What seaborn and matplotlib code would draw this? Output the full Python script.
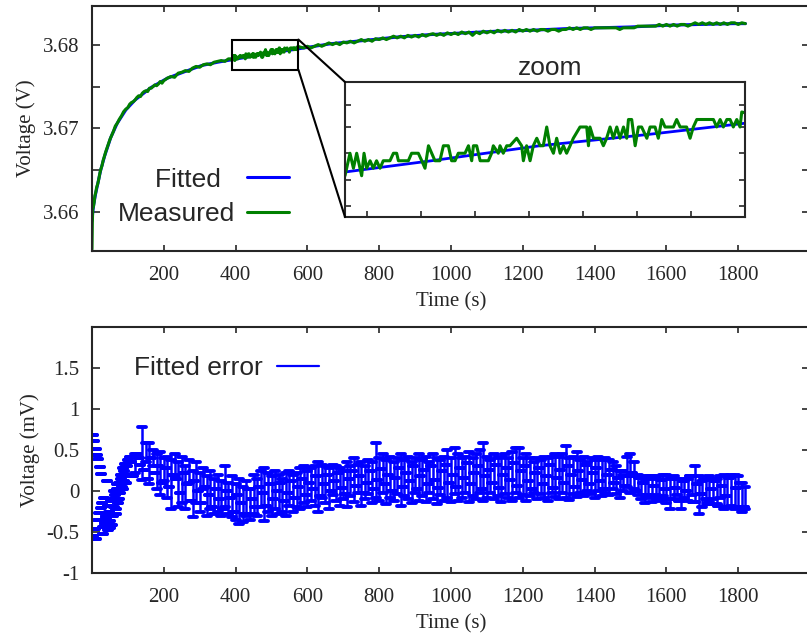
import numpy as np
import pandas as pd
import matplotlib
matplotlib.use("Agg")
import matplotlib.pyplot as plt
import seaborn as sns
from matplotlib.patches import Rectangle, ConnectionPatch
from matplotlib.lines import Line2D
from matplotlib.markers import MarkerStyle
from matplotlib.ticker import FixedLocator, NullFormatter

# ---------------- data ----------------
# fitted voltage curve (V)
t_fit = [0, 2, 5, 10, 17, 24, 35, 52, 70, 94, 120, 165, 210, 260, 305, 350,
         390, 430, 480, 530, 575, 665, 760, 850, 945, 1040, 1130, 1220, 1320,
         1410, 1500, 1600, 1690, 1785, 1820]
v_fit = [3.6590, 3.6600, 3.6610, 3.6622, 3.6636, 3.6650, 3.6667, 3.6689, 3.6706,
         3.6722, 3.6734, 3.6749, 3.6760, 3.6768, 3.6775, 3.6779, 3.6782, 3.6785,
         3.6789, 3.6792, 3.6795, 3.6801, 3.6805, 3.6809, 3.6812, 3.6814, 3.6816,
         3.6817, 3.6819, 3.6820, 3.6821, 3.6823, 3.6824, 3.6825, 3.6825]

# measured voltage (V), early part
t_meas_a = [0, 1, 2, 4, 6, 8, 10, 13, 16, 19, 22, 25, 28, 31, 34, 38, 42, 46, 50,
            55, 60, 65, 70, 76, 82, 88, 94, 100, 105, 110, 115, 120, 125, 130,
            135, 140, 145, 150, 155, 160, 165, 170, 175, 180, 185, 190, 195, 200,
            210, 220, 230, 240, 250, 260, 270, 280, 290, 300, 310, 320, 330, 340,
            350, 360, 370, 380, 386]
v_meas_a = [3.6556, 3.6588, 3.6604, 3.6607, 3.6612, 3.6620, 3.6623, 3.6630, 3.6634,
            3.6640, 3.6647, 3.6652, 3.6656, 3.6662, 3.6666, 3.6672, 3.6677, 3.6682,
            3.6687, 3.6692, 3.6697, 3.6703, 3.6706, 3.6711, 3.6715, 3.6720, 3.6723,
            3.6725, 3.6729, 3.6731, 3.6732, 3.6734, 3.6737, 3.6739, 3.6738, 3.6742,
            3.6744, 3.6745, 3.6744, 3.6748, 3.6748, 3.6750, 3.6752, 3.6751, 3.6753,
            3.6756, 3.6754, 3.6757, 3.6760, 3.6762, 3.6761, 3.6766, 3.6767, 3.6769,
            3.6768, 3.6772, 3.6774, 3.6773, 3.6776, 3.6777, 3.6776, 3.6779, 3.6780,
            3.6781, 3.6780, 3.6783, 3.6783]

# measured voltage (V), zoomed window
t_meas_z = [390.0, 392.3, 393.9, 395.4, 396.9, 397.7, 398.8, 400.0, 401.6, 403.1,
            404.6, 406.2, 407.7, 410.8, 412.4, 413.9, 414.7, 419.3, 420.8, 423.9,
            425.5, 427.0, 428.6, 430.1, 431.6, 433.9, 435.5, 437.8, 439.3, 440.9,
            442.4, 445.5, 447.1, 448.6, 449.4, 450.9, 452.5, 456.3, 457.8, 458.6,
            460.9, 461.7, 463.2, 464.8, 466.3, 469.4, 471.7, 472.5, 474.0, 475.6,
            477.1, 478.7, 480.2, 481.7, 483.3, 484.8, 486.4, 487.9, 489.5, 491.0,
            492.5, 494.1, 495.6, 498.7, 501.8, 502.6, 503.3, 504.9, 508.0, 509.5,
            511.0, 512.6, 514.1, 515.7, 517.2, 518.8, 520.3, 521.1, 522.6, 524.2,
            525.7, 527.2, 529.6, 531.1, 533.4, 534.9, 536.5, 538.0, 541.9, 543.4,
            545.0, 548.0, 549.6, 551.1, 552.7, 560.4, 561.9, 563.5, 565.0, 566.6,
            568.1, 569.6, 571.2, 572.7, 573.5]
v_meas_z = [3.6781, 3.6787, 3.6783, 3.6787, 3.6783, 3.6781, 3.6787, 3.6783, 3.6785, 3.6783,
            3.6785, 3.6783, 3.6785, 3.6785, 3.6787, 3.6787, 3.6785, 3.6785, 3.6787, 3.6787,
            3.6785, 3.6783, 3.6789, 3.6787, 3.6785, 3.6785, 3.6789, 3.6789, 3.6785, 3.6785,
            3.6787, 3.6787, 3.6789, 3.6785, 3.6789, 3.6789, 3.6785, 3.6785, 3.6787, 3.6789,
            3.6787, 3.6789, 3.6787, 3.6789, 3.6789, 3.6791, 3.6789, 3.6785, 3.6789, 3.6785,
            3.6789, 3.6791, 3.6789, 3.6789, 3.6794, 3.6789, 3.6787, 3.6791, 3.6787, 3.6789,
            3.6787, 3.6789, 3.6791, 3.6794, 3.6794, 3.6789, 3.6794, 3.6791, 3.6791, 3.6789,
            3.6791, 3.6794, 3.6791, 3.6794, 3.6791, 3.6794, 3.6791, 3.6796, 3.6796, 3.6789,
            3.6794, 3.6794, 3.6791, 3.6794, 3.6794, 3.6791, 3.6796, 3.6794, 3.6794, 3.6796,
            3.6794, 3.6794, 3.6791, 3.6794, 3.6796, 3.6796, 3.6794, 3.6796, 3.6794, 3.6796,
            3.6796, 3.6794, 3.6796, 3.6794, 3.6798]

# measured voltage (V), late part
t_meas_b = [580, 590, 600, 610, 620, 630, 640, 650, 660, 670, 680, 690, 700, 710,
            720, 730, 740, 750, 760, 770, 780, 790, 800, 810, 820, 830, 840, 850,
            860, 870, 880, 890, 900, 910, 920, 930, 940, 950, 960, 970, 980, 990,
            1000, 1010, 1020, 1030, 1040, 1050, 1060, 1070, 1080, 1090, 1100, 1110,
            1120, 1130, 1140, 1150, 1160, 1170, 1180, 1190, 1200, 1210, 1220, 1230,
            1240, 1250, 1260, 1270, 1280, 1290, 1300, 1310, 1320, 1330, 1340, 1350,
            1360, 1370, 1380, 1390, 1400, 1410, 1420, 1430, 1440, 1450, 1460, 1470,
            1480, 1490, 1500, 1510, 1520, 1530, 1540, 1550, 1560, 1570, 1580, 1590,
            1600, 1610, 1620, 1630, 1640, 1650, 1660, 1670, 1680, 1690, 1700, 1710,
            1720, 1730, 1740, 1750, 1760, 1770, 1780, 1790, 1800, 1810, 1820]
v_meas_b = [3.6797, 3.6796, 3.6798, 3.6796, 3.6798, 3.6800, 3.6798, 3.6800, 3.6802,
            3.6800, 3.6802, 3.6800, 3.6803, 3.6802, 3.6804, 3.6802, 3.6804, 3.6806,
            3.6804, 3.6806, 3.6804, 3.6807, 3.6806, 3.6808, 3.6806, 3.6808, 3.6810,
            3.6808, 3.6810, 3.6808, 3.6811, 3.6809, 3.6811, 3.6809, 3.6812, 3.6810,
            3.6812, 3.6813, 3.6811, 3.6813, 3.6811, 3.6814, 3.6812, 3.6814, 3.6812,
            3.6815, 3.6813, 3.6815, 3.6811, 3.6815, 3.6813, 3.6816, 3.6814, 3.6816,
            3.6814, 3.6817, 3.6815, 3.6817, 3.6815, 3.6817, 3.6815, 3.6818, 3.6816,
            3.6818, 3.6816, 3.6818, 3.6816, 3.6818, 3.6818, 3.6816, 3.6818, 3.6818,
            3.6816, 3.6818, 3.6818, 3.6820, 3.6818, 3.6820, 3.6818, 3.6820, 3.6820,
            3.6818, 3.6820, 3.6820, 3.6820, 3.6820, 3.6820, 3.6820, 3.6820, 3.6818,
            3.6820, 3.6820, 3.6820, 3.6820, 3.6822, 3.6822, 3.6822, 3.6822, 3.6822,
            3.6822, 3.6824, 3.6822, 3.6824, 3.6822, 3.6824, 3.6822, 3.6824, 3.6824,
            3.6822, 3.6824, 3.6826, 3.6824, 3.6826, 3.6824, 3.6826, 3.6824, 3.6826,
            3.6824, 3.6826, 3.6824, 3.6826, 3.6826, 3.6824, 3.6826, 3.6825]

# fitted error (mV), error bars: time, lower end, upper end
t_err = [2, 4, 6, 8, 10, 12, 14, 16, 18, 20, 22, 24, 26, 28, 30, 33, 36, 39, 42,
         45, 48, 51, 54, 57, 60, 63, 66, 69, 72, 75, 78, 81, 84, 87, 90, 93, 96, 99,
         110, 120, 130, 140, 150, 160, 170, 180, 190, 200, 210, 220, 230, 240, 250,
         260, 270, 280, 290, 300, 310, 320, 330, 340, 350, 360, 370, 380, 390, 400,
         410, 420, 430, 440, 450, 460, 470, 480, 490, 500, 510, 520, 530, 540, 550,
         560, 570, 580, 590, 600, 610, 620, 630, 640, 650, 660, 670, 680, 690, 700,
         710, 720, 730, 740, 750, 760, 770, 780, 790, 800, 810, 820, 830, 840, 850,
         860, 870, 880, 890, 900, 910, 920, 930, 940, 950, 960, 970, 980, 990, 1000,
         1010, 1020, 1030, 1040, 1050, 1060, 1070, 1080, 1090, 1100, 1110, 1120,
         1130, 1140, 1150, 1160, 1170, 1180, 1190, 1200, 1210, 1220, 1230, 1240,
         1250, 1260, 1270, 1280, 1290, 1300, 1310, 1320, 1330, 1340, 1350, 1360,
         1370, 1380, 1390, 1400, 1410, 1420, 1430, 1440, 1450, 1460, 1470, 1480,
         1490, 1500, 1510, 1520, 1530, 1540, 1550, 1560, 1570, 1580, 1590, 1600,
         1610, 1620, 1630, 1640, 1650, 1660, 1670, 1680, 1690, 1700, 1710, 1720,
         1730, 1740, 1750, 1760, 1770, 1780, 1790, 1800, 1810, 1820]
err_lo = [0.68, -0.55, 0.61, -0.46, 0.51, -0.58, 0.44, -0.35, 0.39, -0.27, 0.29,
          -0.21, 0.21, -0.15, -0.44, -0.09, -0.38, -0.30, 0.12, -0.48, -0.25, -0.36,
          -0.10, -0.42, -0.20, -0.05, -0.28, 0.02, -0.15, 0.10, -0.02, 0.20, 0.05,
          0.28, 0.12, 0.33, 0.18, 0.38,
          0.35, 0.22, 0.40, 0.13, 0.35, 0.08, 0.30, 0.02, -0.05, 0.12,
          -0.08, -0.22, 0.18, -0.20, -0.15, -0.22, 0.10, -0.32, -0.15, -0.25,
          0.02, -0.30, -0.22, -0.28, -0.25, -0.30, -0.20, -0.28, -0.32, -0.35,
          -0.40, -0.38, -0.30, -0.35, -0.28, -0.30, -0.20, -0.36, -0.25, -0.30,
          -0.22, -0.28, -0.25, -0.30, -0.18, -0.25, -0.20, -0.22, -0.15, -0.20,
          -0.12, -0.18, -0.25, -0.08, -0.15, -0.22, -0.05, -0.12, -0.18, -0.10,
          -0.20, -0.06, -0.14, -0.02, -0.18, -0.10, -0.04, -0.15, -0.08, -0.12,
          -0.02, -0.16, -0.08, -0.12, -0.04, -0.18, -0.06, -0.10, -0.15, -0.03,
          -0.12, -0.06, -0.14, -0.02, -0.10, -0.16, -0.05, -0.12, -0.08, -0.14,
          -0.04, -0.12, -0.08, -0.02, -0.14, -0.06, -0.10, -0.03, -0.12, -0.08,
          -0.02, -0.10, -0.06, -0.13, -0.04, -0.08, -0.12, -0.02, -0.09, -0.05,
          -0.12, -0.06, -0.02, -0.10, -0.04, -0.08, -0.12, -0.03, -0.07, -0.10,
          -0.02, -0.08, -0.11, -0.04, -0.07, -0.02, -0.06, 0.00, -0.04, -0.08,
          0.00, -0.06, -0.02, -0.05, 0.02, -0.04, -0.08, 0.00, 0.05, -0.02,
          0.02, -0.05, -0.10, -0.15, -0.08, -0.14, -0.05, -0.12, -0.06, -0.15,
          -0.22, -0.10, -0.05, -0.22, -0.08, -0.12, -0.05, -0.14, -0.28, -0.20,
          -0.10, -0.14, -0.10, -0.16, -0.08, -0.22, -0.20, -0.18, -0.22, -0.20,
          -0.25, -0.22]
err_hi = [0.68, -0.55, 0.61, -0.46, 0.51, -0.58, 0.44, -0.35, 0.39, -0.27, 0.29,
          -0.21, 0.21, -0.15, -0.44, -0.09, -0.38, -0.30, 0.12, -0.48, -0.25, -0.36,
          -0.10, -0.42, -0.20, -0.05, -0.28, 0.02, -0.15, 0.10, -0.02, 0.20, 0.05,
          0.28, 0.12, 0.33, 0.18, 0.38,
          0.35, 0.45, 0.40, 0.78, 0.58, 0.58, 0.50, 0.45, 0.48, 0.40, 0.42, 0.38,
          0.45, 0.35, 0.42, 0.30, 0.38, 0.25, 0.35, 0.22, 0.28, 0.18, 0.25, 0.15,
          0.20, 0.12, 0.30, 0.10, 0.18, 0.08, 0.15, 0.05, 0.12, 0.02, 0.20, 0.15,
          0.25, 0.28, 0.22, 0.18, 0.25, 0.20, 0.15, 0.22, 0.25, 0.20, 0.22, 0.28,
          0.30, 0.25, 0.28, 0.30, 0.35, 0.32, 0.30, 0.28, 0.32, 0.30, 0.28, 0.25,
          0.35, 0.30, 0.40, 0.32, 0.35, 0.30, 0.38, 0.35, 0.58, 0.40, 0.45, 0.38,
          0.42, 0.35, 0.40, 0.45, 0.38, 0.42, 0.35, 0.40, 0.45, 0.38, 0.42, 0.35,
          0.45, 0.40, 0.38, 0.42, 0.50, 0.40, 0.52, 0.45, 0.40, 0.42, 0.48, 0.40,
          0.45, 0.50, 0.58, 0.42, 0.38, 0.45, 0.40, 0.42, 0.45, 0.40, 0.48, 0.52,
          0.52, 0.40, 0.45, 0.40, 0.35, 0.40, 0.38, 0.42, 0.40, 0.42, 0.45, 0.42,
          0.45, 0.55, 0.40, 0.42, 0.48, 0.38, 0.42, 0.35, 0.40, 0.38, 0.42, 0.38,
          0.40, 0.38, 0.35, 0.30, 0.25, 0.20, 0.42, 0.45, 0.35, 0.20, 0.18, 0.15,
          0.15, 0.18, 0.15, 0.18, 0.20, 0.20, 0.15, 0.18, 0.15, 0.15, 0.12, 0.15,
          0.18, 0.30, 0.18, 0.12, 0.15, 0.18, 0.15, 0.15, 0.18, 0.20, 0.18, 0.20,
          0.20, 0.18, 0.10, 0.05]

# fitted error (mV), points without bars
t_err_b = [31, 35, 40, 44, 49, 53, 58, 62, 67, 71, 76, 80, 85, 89, 94, 98, 102,
           105, 115, 125, 135, 145, 155, 165, 175, 185, 195, 205, 215, 225, 235,
           245, 255, 265, 275, 285, 295, 305, 315, 325, 335, 345, 355, 365, 375,
           385, 395, 405, 415, 425, 435, 445, 455, 465, 475, 485, 495, 505, 515,
           525, 535, 545, 555, 565, 575, 585, 595, 605, 615, 625, 635, 645, 655,
           665, 675, 685, 695, 705, 715, 725, 735, 745, 755, 765, 775, 785, 795,
           805, 815, 825, 835, 845, 855, 865, 875, 885, 895, 905, 915, 925, 935,
           945, 955, 965, 975, 985, 995, 1005, 1015, 1025, 1035, 1045, 1055, 1065,
           1075, 1085, 1095, 1105, 1115, 1125, 1135, 1145, 1155, 1165, 1175, 1185,
           1195, 1205, 1215, 1225, 1235, 1245, 1255, 1265, 1275, 1285, 1295, 1305,
           1315, 1325, 1335, 1345, 1355, 1365, 1375, 1385, 1395, 1405, 1415, 1425,
           1435, 1445, 1455, 1465, 1475, 1485, 1495, 1505, 1515, 1525, 1535, 1545,
           1555, 1565, 1575, 1585, 1595, 1605, 1615, 1625, 1635, 1645, 1655, 1665,
           1675, 1685, 1695, 1705, 1715, 1725, 1735, 1745, 1755, 1765, 1775, 1785,
           1795, 1805, 1815]
err_val_b = [-0.52, -0.40, -0.33, -0.18, -0.45, -0.12, -0.30, 0.00, -0.22, 0.08,
             -0.10, 0.15, 0.02, 0.24, 0.10, 0.30, 0.20,
             0.42, 0.18, 0.45, 0.32, 0.26, 0.15, 0.40, 0.22, 0.30, 0.10,
             0.28, 0.05, 0.20, 0.15, -0.02, 0.22, 0.08, -0.12, 0.12, 0.00,
             -0.15, 0.05, -0.05, -0.20, 0.02, -0.10, -0.22, 0.00, -0.08, -0.25,
             -0.05, -0.15, -0.28, 0.02, -0.10, -0.20, 0.05, -0.02, -0.18, 0.08,
             -0.10, 0.00, 0.10, -0.12, -0.02, 0.12, -0.08, 0.05, 0.15, -0.05,
             0.10, 0.02, 0.18, -0.06, 0.08, 0.20, 0.00, 0.12, 0.22, 0.04,
             -0.04, 0.15, 0.24, 0.06, 0.18, -0.02, 0.10, 0.25, 0.02, 0.14,
             0.27, 0.08, 0.20, 0.00, 0.16, 0.28, 0.05, 0.22, 0.12, 0.30,
             0.02, 0.18, 0.26, 0.08, 0.30, 0.14, 0.04, 0.24, 0.32, 0.10,
             0.20, 0.05, 0.28, 0.16, 0.34, 0.08, 0.22, 0.30, 0.02, 0.18,
             0.26, 0.10, 0.32, 0.04, 0.20, 0.28, 0.14, 0.34, 0.06, 0.24,
             0.30, 0.12, 0.02, 0.22, 0.28, 0.08, 0.18, 0.32, 0.04, 0.16,
             0.26, 0.10, 0.30, 0.20, 0.05, 0.24, 0.14, 0.32, 0.08, 0.22,
             0.28, 0.12, 0.02, 0.20, 0.26, 0.10, 0.16, 0.24, 0.06, 0.18,
             0.22, 0.00, 0.16, 0.10, -0.05, 0.18, 0.06, -0.08, 0.14, 0.02,
             -0.10, 0.16, 0.04, -0.12, 0.12, 0.00, 0.18, -0.14, 0.08, -0.04,
             0.14, -0.16, 0.02, 0.12, -0.18, 0.06, -0.06, 0.16, -0.20, 0.04,
             0.10, -0.20]

# tick labels
top_yticks = [3.66, 3.67, 3.68]
bot_yticks = [-1, -0.5, 0, 0.5, 1, 1.5]
xticks = [200, 400, 600, 800, 1000, 1200, 1400, 1600, 1800]

# ---------------- styling ----------------
sns.set_style("ticks")
plt.rcParams.update({
    "font.family": ["Liberation Serif", "DejaVu Serif"],
    "axes.unicode_minus": False,
    "xtick.direction": "in",
    "ytick.direction": "in",
    "axes.linewidth": 1.5,
})
BLUE = "#0000ff"
GREEN = "#008000"
SANS = ["Liberation Sans", "DejaVu Sans"]
TICKFS = 15
LABFS = 15

fig = plt.figure(figsize=(8.07, 6.37), dpi=100)
W, H = 807.0, 637.0
AXW = (810 - 92) / W
ax1 = fig.add_axes([92 / W, 1 - 251 / H, AXW, 245 / H])
ax2 = fig.add_axes([92 / W, 1 - 573 / H, AXW, 246 / H])
axz = fig.add_axes([345 / W, 1 - 217 / H, 400 / W, 135 / H])

df_fit = pd.DataFrame({"t": t_fit, "v": v_fit})
df_meas = pd.DataFrame({"t": t_meas_a + t_meas_z + t_meas_b,
                        "v": v_meas_a + v_meas_z + v_meas_b})

# ---- top panel ----
sns.lineplot(data=df_fit, x="t", y="v", ax=ax1, color=BLUE, lw=2.2,
             estimator=None, sort=False, label="Fitted  ")
sns.lineplot(data=df_meas, x="t", y="v", ax=ax1, color=GREEN, lw=2.2,
             estimator=None, sort=False, label="Measured")
ax1.set_xlim(0, 2000)
ax1.set_ylim(3.6554, 3.6846)
ax1.xaxis.set_major_locator(FixedLocator(xticks))
ax1.yaxis.set_major_locator(FixedLocator(top_yticks))
ax1.yaxis.set_minor_locator(FixedLocator([3.665, 3.675]))
ax1.set_yticklabels(["%.2f" % v for v in top_yticks])
ax1.set_xlabel("Time (s)", fontsize=LABFS, labelpad=5)
ax1.set_ylabel("Voltage (V)", fontsize=LABFS, labelpad=5)

z_x0, z_x1, z_y0, z_y1 = 390, 575, 3.6770, 3.6806
ax1.add_patch(Rectangle((z_x0, z_y0), z_x1 - z_x0, z_y1 - z_y0, fill=False,
                        ec="black", lw=1.5, zorder=6))

ax1.legend(loc="center right", bbox_to_anchor=(300 / W, 1 - 197 / H),
           bbox_transform=fig.transFigure, frameon=False, markerfirst=False,
           prop={"family": SANS, "size": 19}, handlelength=1.6,
           handletextpad=0.45, labelspacing=0.4, borderaxespad=0)

# ---- inset ----
sns.lineplot(data=df_fit, x="t", y="v", ax=axz, color=BLUE, lw=2,
             estimator=None, sort=False, legend=False)
sns.lineplot(data=df_meas, x="t", y="v", ax=axz, color=GREEN, lw=2.2,
             estimator=None, sort=False, legend=False)
axz.set_xlim(z_x0, z_x1)
axz.set_ylim(z_y0, z_y1)
axz.xaxis.set_major_locator(FixedLocator([400, 425, 450, 475, 500, 525, 550]))
axz.yaxis.set_major_locator(FixedLocator([3.6773, 3.6780, 3.6787, 3.6794, 3.6800]))
axz.xaxis.set_major_formatter(NullFormatter())
axz.yaxis.set_major_formatter(NullFormatter())
axz.set_xlabel("")
axz.set_ylabel("")
axz.tick_params(which="both", direction="in", length=4, width=1.2,
                left=True, right=True, bottom=True, top=False)
for s in axz.spines.values():
    s.set_linewidth(1.5)
fig.text(550 / W, 1 - 68 / H, "zoom", family=SANS, fontsize=19,
         ha="center", va="center")

for xyA, xyB in [((z_x1, z_y1), (0, 1)), ((z_x1, z_y0), (0, 0))]:
    con = ConnectionPatch(xyA=xyA, coordsA=ax1.transData, xyB=xyB,
                          coordsB=axz.transAxes, color="black", lw=1.5)
    fig.add_artist(con)

# ---- bottom panel ----
lo = np.array(err_lo)
hi = np.array(err_hi)
cont_a = ax2.errorbar(t_err, lo, yerr=[np.zeros(len(lo)), hi - lo],
                      fmt="none", ecolor=BLUE, elinewidth=1.8, capsize=2.6,
                      capthick=2.8)
cont_b = ax2.errorbar(t_err_b, err_val_b, yerr=np.zeros(len(err_val_b)),
                      fmt="none", ecolor=BLUE, elinewidth=1.8, capsize=2.6,
                      capthick=2.8)
for cont in (cont_a, cont_b):
    for cl in cont.lines[1]:
        cl.set_marker(MarkerStyle("_", capstyle="round"))
ax2.set_xlim(0, 2000)
ax2.set_ylim(-1, 2)
ax2.xaxis.set_major_locator(FixedLocator(xticks))
ax2.yaxis.set_major_locator(FixedLocator(bot_yticks))
ax2.set_yticklabels(["%g" % v for v in bot_yticks])
ax2.set_xlabel("Time (s)", fontsize=LABFS, labelpad=5)
ax2.set_ylabel("Voltage (mV)", fontsize=LABFS, labelpad=5)
ax2.legend(handles=[Line2D([], [], color=BLUE, lw=1.6)], labels=["Fitted error"],
           loc="center right", bbox_to_anchor=(330 / W, 1 - 368 / H),
           bbox_transform=fig.transFigure, frameon=False, markerfirst=False,
           prop={"family": SANS, "size": 19}, handlelength=1.6,
           handletextpad=0.55, borderaxespad=0)

for ax in (ax1, ax2):
    ax.tick_params(which="both", direction="in", width=1.2,
                   top=True, right=True, labelsize=TICKFS)
    ax.tick_params(axis="x", which="both", length=4.5, pad=11)
    ax.tick_params(axis="y", which="both", length=5.5, pad=9)
    for s in ax.spines.values():
        s.set_linewidth(1.5)
    for lab in ax.get_xticklabels() + ax.get_yticklabels():
        lab.set_family(["Liberation Serif", "DejaVu Serif"])

fig.savefig("out.png", dpi=100)
